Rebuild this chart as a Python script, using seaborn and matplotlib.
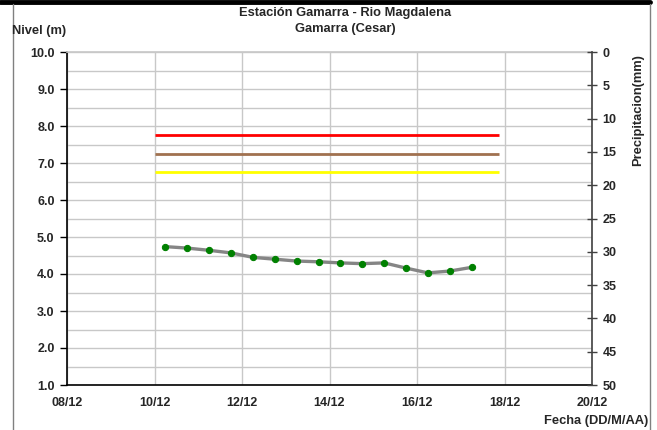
import matplotlib
matplotlib.use("Agg")
import matplotlib.pyplot as plt
import matplotlib.dates as mdates
from matplotlib.lines import Line2D
import seaborn as sns
import pandas as pd

# Nivel del rio, cada 12 horas
fechas = pd.date_range("2023-12-10 06:00", periods=15, freq="12h")
nivel = [4.74, 4.70, 4.64, 4.57, 4.45, 4.40, 4.35, 4.33, 4.30, 4.28,
         4.30, 4.16, 4.03, 4.08, 4.18]

# Niveles de alerta
alertas = [7.75, 7.25, 6.75]
colores_alerta = ["#ff0000", "#a0714f", "#ffff00"]
alerta_inicio = pd.Timestamp("2023-12-10 00:30")
alerta_fin = pd.Timestamp("2023-12-17 21:00")

x_ticks = pd.date_range("2023-12-08", "2023-12-20", freq="2D")
y_ticks = [1.0, 2.0, 3.0, 4.0, 5.0, 6.0, 7.0, 8.0, 9.0, 10.0]
precip_ticks = [0, 5, 10, 15, 20, 25, 30, 35, 40, 45, 50]

sns.set_theme(style="white")
plt.rcParams['font.family'] = ['Liberation Sans', 'DejaVu Sans']
plt.rcParams['font.weight'] = 'bold'

fs_tick = 9
fs_text = 9.3

fig = plt.figure(figsize=(6.57, 4.30), dpi=100)
ax = fig.add_axes([67 / 657, 1 - 385 / 430, 525 / 657, 333 / 430])

df = pd.DataFrame({"fecha": fechas, "nivel": nivel})

# grid
for y in [v / 2 for v in range(2, 21)]:
    ax.axhline(y, color="#c8c8c8", lw=1.0, zorder=0)
for x in x_ticks:
    ax.axvline(x, color="#c8c8c8", lw=1.0, zorder=0)

for lvl, c in zip(alertas, colores_alerta):
    ax.hlines(lvl, alerta_inicio, alerta_fin, color=c, lw=2.0, zorder=2)

sns.lineplot(data=df, x="fecha", y="nivel", ax=ax, color="#858585", lw=2.4,
             marker="o", markersize=4.5, markerfacecolor="#008000",
             markeredgecolor="#008000", zorder=3)

ax.set_xlim(x_ticks[0], x_ticks[-1])
ax.set_ylim(1.0, 10.0)
ax.set_xticks(x_ticks)
ax.xaxis.set_major_formatter(mdates.DateFormatter("%d/%m"))
ax.set_yticks(y_ticks)
ax.set_yticklabels([f"{v:.1f}" for v in y_ticks])
ax.set_xlabel("")
ax.set_ylabel("")
ax.tick_params(axis="y", direction="out", length=5, width=1, color="black",
               labelsize=fs_tick, pad=4, left=True)
ax.tick_params(axis="x", length=0, labelsize=fs_tick, pad=9)

for s in ["left", "bottom"]:
    ax.spines[s].set_color("black")
    ax.spines[s].set_linewidth(1.2)
ax.spines["top"].set_color("#c8c8c8")
ax.spines["right"].set_visible(False)

ax2 = ax.twinx()
ax2.set_ylim(50, 0)
ax2.set_yticks(precip_ticks)
ax2.tick_params(axis="y", direction="inout", length=7, width=1, color="#404040",
                labelsize=fs_tick, pad=4, right=True)
for s in ["left", "top", "bottom"]:
    ax2.spines[s].set_visible(False)
ax2.spines["right"].set_color("#404040")
ax2.spines["right"].set_linewidth(1.2)
ax2.grid(False)

for lab in ax.get_xticklabels() + ax.get_yticklabels() + ax2.get_yticklabels():
    lab.set_fontweight("bold")

# textos
fig.text(345 / 657, 1 - 13 / 430, "Estación Gamarra - Rio Magdalena", ha="center",
         va="center", fontsize=fs_text, fontweight="bold")
fig.text(345 / 657, 1 - 29 / 430, "Gamarra (Cesar)", ha="center", va="center",
         fontsize=fs_text, fontweight="bold")
fig.text(12 / 657, 1 - 31 / 430, "Nivel (m)", ha="left", va="center",
         fontsize=fs_text, fontweight="bold")
fig.text(648 / 657, 1 - 421 / 430, "Fecha (DD/M/AA)", ha="right", va="center",
         fontsize=fs_text, fontweight="bold")
fig.text(638 / 657, 1 - 110 / 430, "Precipitacion(mm)", ha="center", va="center",
         rotation=90, fontsize=fs_text, fontweight="bold")

# marco
fig.add_artist(Line2D([0, 650 / 657], [1 - 2 / 430, 1 - 2 / 430], color="black",
                      lw=3.5, transform=fig.transFigure))
fig.add_artist(Line2D([13 / 657, 13 / 657], [0, 1 - 4 / 430], color="#808080",
                      lw=1.0, transform=fig.transFigure))
fig.add_artist(Line2D([650 / 657, 650 / 657], [0, 1 - 4 / 430], color="#808080",
                      lw=1.0, transform=fig.transFigure))

fig.savefig("out.png", dpi=100)
